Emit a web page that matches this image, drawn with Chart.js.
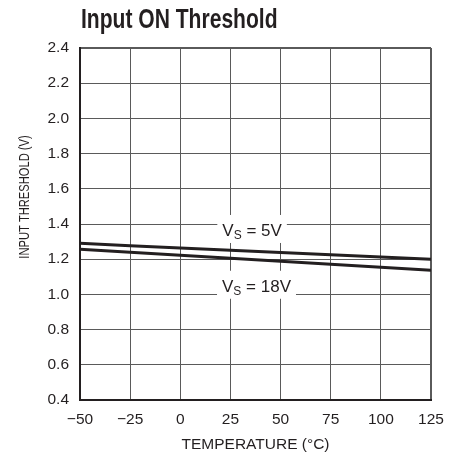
<!DOCTYPE html>
<html>
<head>
<meta charset="utf-8">
<title>Input ON Threshold</title>
<script src="https://cdn.jsdelivr.net/npm/chart.js@4.4.1/dist/chart.umd.min.js"></script>
<style>
    html, body { margin: 0; padding: 0; background: #fff; }
    #wrap { width: 461px; height: 457px; }
</style>
</head>
<body>
<div id="wrap"><canvas id="thresholdChart" width="461" height="457"></canvas></div>
<script>
// ===== DATA =====
const temperatures = [-50, -25, 0, 25, 50, 75, 100, 125];
const threshold5V  = [1.290, 1.277, 1.264, 1.251, 1.238, 1.225, 1.212, 1.200];
const threshold18V = [1.256, 1.239, 1.222, 1.205, 1.188, 1.171, 1.154, 1.137];
const seriesSupply = ['5V', '18V'];
const xTickLabels = ['\u221250', '\u221225', '0', '25', '50', '75', '100', '125'];
const yTickLabels = ['0.4', '0.6', '0.8', '1.0', '1.2', '1.4', '1.6', '1.8', '2.0', '2.2', '2.4'];

// label anchors (data units): centre x, baseline y
const labelAnchors = [
    { x: 35.8, y: 1.332 },
    { x: 38, y: 1.015 }
];

const INK = '#231f20';
const FONT = "'Liberation Sans', Arial, sans-serif";

// no condensed face installed, so squeeze text horizontally
function drawCondensed(ctx, text, x, y, font, stretch, align) {
    ctx.save();
    ctx.translate(x, y);
    ctx.scale(stretch, 1);
    ctx.font = font;
    ctx.textAlign = align;
    ctx.fillText(text, 0, 0);
    ctx.restore();
}

// ===== TITLE, CURVE LABELS, Y TITLE =====
const extraText = {
    id: 'extraText',
    afterDatasetsDraw(chart) {
        const ctx = chart.ctx;
        const xs = chart.scales.x, ys = chart.scales.y;
        ctx.save();
        seriesSupply.forEach(function(name, i) {
            const cx = xs.getPixelForValue(labelAnchors[i].x);
            const by = ys.getPixelForValue(labelAnchors[i].y);
            const big = '17px ' + FONT, small = '12px ' + FONT;
            ctx.font = big;
            const wV = ctx.measureText('V').width;
            const wRest = ctx.measureText(' = ' + name).width;
            ctx.font = small;
            const wS = ctx.measureText('S').width;
            const total = wV + wS + wRest;
            const x0 = cx - total / 2;
            ctx.fillStyle = '#fff';
            ctx.fillRect(x0 - 5, by - 21, total + 10, 28);
            ctx.fillStyle = INK;
            ctx.textBaseline = 'alphabetic';
            ctx.textAlign = 'left';
            ctx.font = big;
            ctx.fillText('V', x0, by);
            ctx.font = small;
            ctx.fillText('S', x0 + wV, by + 3);
            ctx.font = big;
            ctx.fillText(' = ' + name, x0 + wV + wS, by);
        });
        ctx.restore();
    },
    afterDraw(chart) {
        const ctx = chart.ctx;
        ctx.save();
        ctx.fillStyle = INK;
        ctx.textBaseline = 'alphabetic';
        drawCondensed(ctx, 'Input ON Threshold', 81, 28, 'bold 27px ' + FONT, 0.78, 'left');

        ctx.translate(28.5, 197);
        ctx.rotate(-Math.PI / 2);
        drawCondensed(ctx, 'INPUT THRESHOLD (V)', 0, 0, '15.5px ' + FONT, 0.72, 'center');
        ctx.restore();
    }
};

// ===== CHART =====
function initThresholdChart() {
    const canvas = document.getElementById('thresholdChart');
    if (!canvas) return;
    const ctx = canvas.getContext('2d');

    const lineStyle = {
        borderColor: INK,
        borderWidth: 3,
        pointRadius: 0,
        tension: 0,
        fill: false
    };

    new Chart(ctx, {
        type: 'line',
        data: {
            labels: temperatures,
            datasets: [
                Object.assign({ label: 'VS = 5V', data: temperatures.map((t, i) => ({ x: t, y: threshold5V[i] })) }, lineStyle),
                Object.assign({ label: 'VS = 18V', data: temperatures.map((t, i) => ({ x: t, y: threshold18V[i] })) }, lineStyle)
            ]
        },
        options: {
            responsive: false,
            animation: false,
            devicePixelRatio: 1,
            layout: { padding: { left: 0, right: 30, top: 48, bottom: 0 } },
            plugins: {
                legend: { display: false },
                tooltip: { enabled: false },
                title: { display: false }
            },
            scales: {
                x: {
                    type: 'linear',
                    min: -50,
                    max: 125,
                    afterFit: function(scale) { scale.height = 57; },
                    ticks: {
                        stepSize: 25,
                        padding: 10,
                        color: INK,
                        font: { family: FONT, size: 15.5 },
                        maxRotation: 0,
                        callback: function(value, index) { return xTickLabels[index]; }
                    },
                    grid: {
                        drawTicks: false,
                        color: '#5a5a5a',
                        lineWidth: c => c.index === xTickLabels.length - 1 ? 2 : 1
                    },
                    border: { color: INK, width: 2 },
                    title: {
                        display: true,
                        text: 'TEMPERATURE (\u00b0C)',
                        color: INK,
                        font: { family: FONT, size: 15.5 },
                        padding: { top: 0, bottom: 3 }
                    }
                },
                y: {
                    min: 0.4,
                    max: 2.4,
                    afterFit: function(scale) { scale.width = 80; },
                    ticks: {
                        stepSize: 0.2,
                        padding: 11,
                        color: INK,
                        font: { family: FONT, size: 15.5 },
                        callback: function(value, index) { return yTickLabels[index]; }
                    },
                    grid: {
                        drawTicks: false,
                        color: '#5a5a5a',
                        lineWidth: c => c.index === yTickLabels.length - 1 ? 2 : 1
                    },
                    border: { color: INK, width: 2 }
                }
            }
        },
        plugins: [extraText]
    });
}

initThresholdChart();
</script>
</body>
</html>
